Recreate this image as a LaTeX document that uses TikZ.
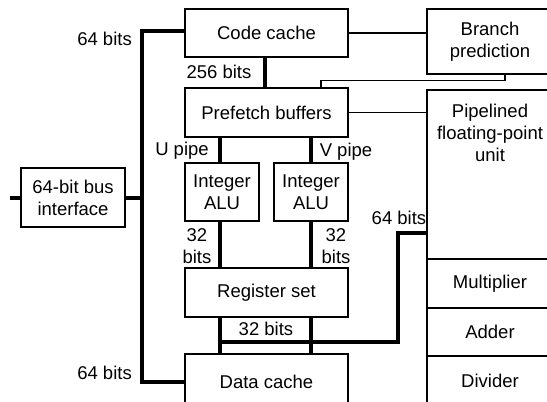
\documentclass[tikz,border=0pt]{standalone}
\usepackage{fontspec}
\setmainfont{Liberation Sans}
\begin{document}
\begin{tikzpicture}[x=1pt,y=-1pt,
  box/.style={draw, line width=1.1pt, inner sep=0pt, align=center,
    font=\fontsize{18.5}{22}\selectfont},
  lbl/.style={inner sep=0pt, align=center, font=\fontsize{18.5}{22}\selectfont},
  bus/.style={line width=4pt},
  wire/.style={line width=1.1pt}]
\clip (0,0) rectangle (547,402);

% functional blocks
\node[box, minimum width=163pt, minimum height=48pt] (code) at (266.5,33) {Code cache};
\node[box, minimum width=126pt, minimum height=65pt] (branch) at (490,41.5) {Branch\\prediction};
\node[box, minimum width=163pt, minimum height=49pt] (pre) at (266.5,112.5) {Prefetch buffers};
\node[box, minimum width=74pt, minimum height=58pt] (alu1) at (222,192) {Integer\\ALU};
\node[box, minimum width=74pt, minimum height=58pt] (alu2) at (311,192) {Integer\\ALU};
\node[box, minimum width=163pt, minimum height=49pt] (reg) at (266.5,292.5) {Register set};
\node[box, minimum width=163pt, minimum height=56pt] (data) at (266.5,382) {Data cache};
\node[box, minimum width=104pt, minimum height=59pt] (bif) at (73,197.5) {64-bit bus\\interface};

% floating-point unit and its sections
\node[box, minimum width=126pt, minimum height=169pt] (fpu) at (490,174.5) {};
\node[lbl] (fputxt) at (490,133) {Pipelined\\floating-point\\unit};
\node[box, minimum width=126pt, minimum height=49pt] (mult) at (490,283.5) {Multiplier};
\node[box, minimum width=126pt, minimum height=48pt] (adder) at (490,332) {Adder};
\node[box, minimum width=126pt, minimum height=49pt] (div) at (490,380.5) {Divider};

% bus positions
\coordinate (ux) at (220,0);
\coordinate (vx) at (311,0);
\coordinate (cx) at (265,0);
\coordinate (lx) at (142,0);
\coordinate (rx) at (398,0);
\coordinate (bx) at (505,0);
\coordinate (px) at (321,0);
\coordinate (cy) at (0,31);
\coordinate (dy) at (0,382);
\coordinate (jy) at (0,342);
\coordinate (fy) at (0,233);
\coordinate (edge) at (10,197.5);

% thin control connections
\draw[wire] (code.east) -- (branch.west |- code.east);
\draw[wire] (branch.south -| bx) -- ++(0,6) -| (pre.north -| px);
\draw[wire] (pre.east) -- (fpu.west |- pre.east);

% data paths
\draw[bus] (code.south -| cx) -- (pre.north -| cx);
\draw[bus] (pre.south -| ux) -- (alu1.north -| ux);
\draw[bus] (alu1.south -| ux) -- (reg.north -| ux);
\draw[bus] (reg.south -| ux) -- (data.north -| ux);
\draw[bus] (pre.south -| vx) -- (alu2.north -| vx);
\draw[bus] (alu2.south -| vx) -- (reg.north -| vx);
\draw[bus] (reg.south -| vx) -- (data.north -| vx);
\draw[bus] (ux |- jy) -| (rx |- fy) -- (fpu.west |- fy);
\draw[bus] (code.west |- cy) -| (lx |- dy) -- (data.west |- dy);
\draw[bus] (bif.east) -- (lx |- bif.east);
\draw[bus] (edge) -- (bif.west);

% bus width labels
\node[lbl, anchor=east] (l64a) at (132,39) {64 bits};
\node[lbl, anchor=east] (l64b) at (132,373) {64 bits};
\node[lbl] (l256) at (219,72) {256 bits};
\node[lbl] (lu) at (182,151) {U pipe};
\node[lbl] (lv) at (346,152) {V pipe};
\node[lbl] (l32a) at (197,246) {32\\bits};
\node[lbl] (l32b) at (336,246) {32\\bits};
\node[lbl] (l32c) at (266,329) {32 bits};
\node[lbl] (l64c) at (399,218) {64 bits};
\end{tikzpicture}
\end{document}
